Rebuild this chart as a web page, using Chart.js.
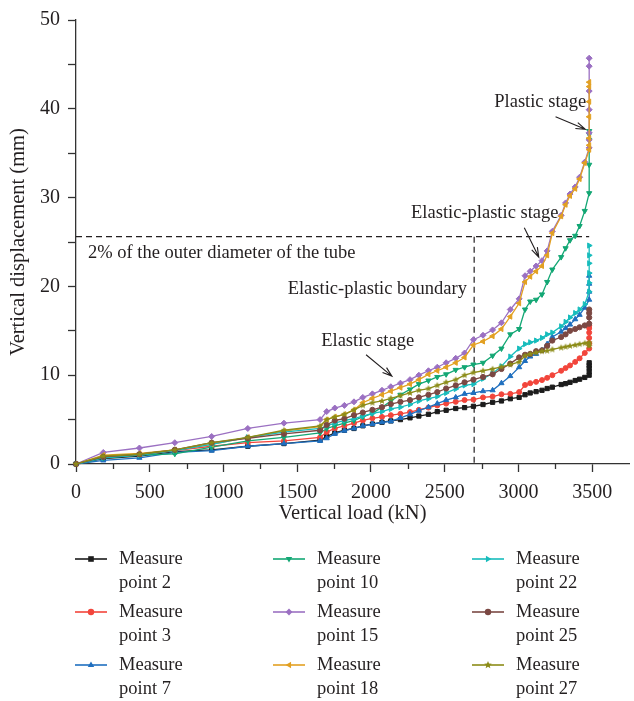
<!DOCTYPE html>
<html>
<head>
<meta charset="utf-8">
<script src="https://cdn.jsdelivr.net/npm/chart.js@4.4.0/dist/chart.umd.min.js"></script>
<style>
  html, body { margin: 0; padding: 0; background: #fff; }
  #wrap { width: 634px; height: 701px; }
</style>
</head>
<body>
<div id="wrap"><canvas id="chart" width="634" height="701"></canvas></div>
<script>
/* Load–displacement curves of the measuring points */

const FONT = '"Liberation Serif", "Times New Roman", serif';
const INK = '#231f20';

// load steps (kN); the last step is held while the tube yields
const loadSteps = [0, 185, 430, 670, 920, 1165, 1410, 1655,
  1700, 1755, 1820, 1885, 1945, 2010, 2075, 2135, 2200, 2265,
  2325, 2390, 2450, 2510, 2575, 2635, 2695, 2760, 2825, 2885,
  2945, 3005, 3045, 3080, 3120, 3160, 3195, 3230, 3290, 3320,
  3350, 3385, 3415, 3450, 3480];
const peakLoad = 3480;

const pointNames = ['Measure point 2', 'Measure point 3', 'Measure point 7',
  'Measure point 10', 'Measure point 15', 'Measure point 18',
  'Measure point 22', 'Measure point 25', 'Measure point 27'];

// vertical displacement (mm) at each load step
const mp2 = [0, 0.6, 0.9, 1.4, 1.6, 2.0, 2.3, 2.7,
  3.1, 3.5, 3.8, 4.0, 4.3, 4.5, 4.7, 4.85, 5.0, 5.2,
  5.4, 5.6, 5.9, 6.05, 6.25, 6.35, 6.5, 6.7, 6.95, 7.1,
  7.35, 7.5, 7.8, 8.0, 8.15, 8.3, 8.5, 8.65, 8.95, 9.05,
  9.2, 9.4, 9.55, 9.75, 10.0];
const mp3 = [0, 0.8, 1.0, 1.5, 2.0, 2.4, 2.6, 3.0,
  3.6, 4.0, 4.3, 4.6, 4.9, 5.15, 5.3, 5.5, 5.65, 5.85,
  6.1, 6.35, 6.6, 6.8, 7.0, 7.2, 7.25, 7.5, 7.6, 7.85,
  7.9, 8.1, 8.9, 9.1, 9.25, 9.45, 9.7, 10.0, 10.5, 10.8,
  11.1, 11.5, 11.9, 12.5, 13.0];
const mp7 = [0, 0.4, 0.7, 1.3, 1.5, 2.0, 2.3, 2.6,
  2.9, 3.4, 3.75, 4.0, 4.3, 4.5, 4.7, 4.8, 5.2, 5.6,
  6.0, 6.4, 6.8, 7.2, 7.5, 7.9, 8.0, 8.2, 8.3, 9.1,
  9.9, 10.9, 11.6, 12.1, 12.4, 12.8, 13.5, 14.3, 14.9, 15.3,
  15.7, 16.3, 16.8, 17.6, 18.5];
const mp10 = [0, 0.7, 1.0, 1.15, 1.9, 2.6, 3.0, 3.5,
  4.0, 4.3, 4.6, 4.9, 5.3, 5.7, 6.4, 7.1, 7.8, 8.4,
  9.0, 9.4, 9.8, 10.1, 10.6, 10.9, 11.2, 11.4, 12.2, 13.0,
  14.6, 15.2, 17.4, 18.3, 18.5, 19.1, 20.5, 21.9, 23.3, 24.3,
  25.2, 25.7, 26.8, 28.5, 30.5];
const mp15 = [0, 1.3, 1.8, 2.4, 3.1, 4.0, 4.6, 5.0,
  5.9, 6.3, 6.6, 7.0, 7.5, 7.9, 8.3, 8.7, 9.1, 9.5,
  10.0, 10.5, 10.9, 11.4, 11.9, 12.5, 14.0, 14.5, 15.1, 15.9,
  17.4, 18.6, 21.2, 21.7, 22.3, 22.9, 24.0, 26.2, 28.0, 29.4,
  30.4, 31.2, 32.3, 34.0, 35.6];
const mp18 = [0, 1.0, 1.2, 1.6, 2.2, 3.0, 3.7, 4.2,
  5.0, 5.3, 5.6, 6.1, 6.9, 7.4, 7.8, 8.2, 8.6, 9.0,
  9.5, 10.1, 10.5, 10.9, 11.4, 12.0, 13.4, 13.8, 14.4, 15.2,
  16.6, 18.1, 20.5, 21.1, 21.7, 22.3, 23.5, 26.0, 27.9, 29.2,
  30.2, 31.0, 32.1, 33.9, 35.4];
const mp22 = [0, 0.7, 1.0, 1.5, 2.2, 3.0, 3.6, 4.0,
  4.3, 4.6, 4.9, 5.1, 5.4, 5.7, 5.9, 6.2, 6.4, 6.7,
  7.1, 7.35, 7.6, 8.0, 8.45, 8.85, 9.0, 9.6, 10.2, 11.0,
  12.1, 13.0, 13.5, 13.7, 13.9, 14.2, 14.6, 14.8, 15.5, 16.0,
  16.5, 17.0, 17.4, 18.0, 19.4];
const mp25 = [0, 0.8, 1.1, 1.6, 2.4, 2.9, 3.4, 3.8,
  4.4, 4.9, 5.1, 5.5, 5.8, 6.1, 6.4, 6.75, 7.0, 7.2,
  7.5, 7.8, 8.1, 8.5, 8.85, 9.2, 9.5, 9.8, 10.1, 10.7,
  11.3, 12.0, 12.3, 12.4, 12.7, 12.8, 13.3, 13.9, 14.3, 14.6,
  15.0, 15.2, 15.4, 15.6, 15.8];
const mp27 = [0, 0.9, 1.1, 1.6, 2.4, 3.0, 3.8, 4.3,
  5.0, 5.3, 5.6, 6.1, 6.6, 6.9, 7.1, 7.4, 7.7, 8.0,
  8.3, 8.5, 8.85, 9.2, 9.5, 10.0, 10.3, 10.5, 10.7, 10.95,
  11.2, 11.5, 12.2, 12.4, 12.55, 12.7, 12.75, 12.9, 13.1, 13.2,
  13.3, 13.4, 13.5, 13.6, 13.7];

// readings taken while the peak load is held
const mp2Peak = [10.4, 10.8, 11.1, 11.4];
const mp3Peak = [13.6, 14.2, 14.8, 15.3, 15.6];
const mp7Peak = [19.4, 20.3, 21.2];
const mp10Peak = [33.7, 36.5, 37.1, 37.5];
const mp15Peak = [36.5, 37.3, 39.9, 42.0, 44.8, 45.7];
const mp18Peak = [35.9, 36.7, 39.1, 40.8, 42.5, 43.0];
const mp22Peak = [20.4, 21.5, 22.6, 23.5, 24.6];
const mp25Peak = [16.5, 17.0, 17.4];
const mp27Peak = [13.3, 13.5];

const xTicks = [0, 500, 1000, 1500, 2000, 2500, 3000, 3500];
const xMinorTicks = [250, 750, 1250, 1750, 2250, 2750, 3250];
const yTicks = [0, 5, 10, 15, 20, 25, 30, 35, 40, 45, 50];

// 2% of the outer tube diameter, and the load at the elastic-plastic boundary
const limitDisp = 25.6;
const boundaryLoad = 2700;

// filled five-point star for measure point 27
function starImage(color, r) {
  const c = document.createElement('canvas');
  const s = Math.ceil(r * 2 + 2);
  c.width = s; c.height = s;
  const g = c.getContext('2d');
  g.fillStyle = color;
  g.beginPath();
  for (let i = 0; i < 10; i++) {
    const rad = i % 2 ? r * 0.45 : r;
    const a = -Math.PI / 2 + i * Math.PI / 5;
    g.lineTo(s / 2 + rad * Math.cos(a), s / 2 + rad * Math.sin(a));
  }
  g.closePath();
  g.fill();
  return c;
}

const series = [
  { ys: mp2,  peak: mp2Peak,  color: '#1c1c1c', style: 'rect',     rot: 0,   r: 3 },
  { ys: mp3,  peak: mp3Peak,  color: '#f2453b', style: 'circle',   rot: 0,   r: 2.5 },
  { ys: mp7,  peak: mp7Peak,  color: '#1f6fbf', style: 'triangle', rot: 0,   r: 3 },
  { ys: mp10, peak: mp10Peak, color: '#13a774', style: 'triangle', rot: 180, r: 3 },
  { ys: mp15, peak: mp15Peak, color: '#9b70c2', style: 'rectRot',  rot: 0,   r: 3 },
  { ys: mp18, peak: mp18Peak, color: '#e2a022', style: 'triangle', rot: 270, r: 3 },
  { ys: mp22, peak: mp22Peak, color: '#17bcbc', style: 'triangle', rot: 90,  r: 3 },
  { ys: mp25, peak: mp25Peak, color: '#7b4843', style: 'circle',   rot: 0,   r: 2.6 },
  { ys: mp27, peak: mp27Peak, color: '#8c8c18', style: 'star',     rot: 0,   r: 3.6 },
];

const datasets = series.map((s, i) => {
  const pts = loadSteps.map((x, k) => ({ x, y: s.ys[k] }))
    .concat(s.peak.map(y => ({ x: peakLoad, y })));
  const style = s.style === 'star' ? starImage(s.color, s.r) : s.style;
  return {
    label: pointNames[i],
    data: pts,
    borderColor: s.color,
    backgroundColor: s.color,
    borderWidth: 1.3,
    pointStyle: style,
    pointRotation: s.rot,
    pointRadius: s.r,
    pointBorderWidth: 1,
    pointBackgroundColor: s.color,
    pointBorderColor: s.color,
    tension: 0,
    clip: false,
    order: series.length - i,
  };
});

// legend marker drawn by hand so the legend can wrap into two lines
function legendMarker(ctx, s, x, y) {
  ctx.save();
  ctx.translate(x, y);
  ctx.rotate(s.rot * Math.PI / 180);
  ctx.fillStyle = s.color;
  ctx.beginPath();
  const r = 3.4;
  if (s.style === 'rect') {
    ctx.rect(-2.8, -2.8, 5.6, 5.6);
  } else if (s.style === 'circle') {
    ctx.arc(0, 0, 3.2, 0, Math.PI * 2);
  } else if (s.style === 'triangle') {
    ctx.moveTo(0, -r);
    ctx.lineTo(r * 0.95, r * 0.6);
    ctx.lineTo(-r * 0.95, r * 0.6);
    ctx.closePath();
  } else if (s.style === 'rectRot') {
    ctx.moveTo(0, -r); ctx.lineTo(r, 0); ctx.lineTo(0, r); ctx.lineTo(-r, 0);
    ctx.closePath();
  } else {
    for (let i = 0; i < 10; i++) {
      const rad = i % 2 ? 1.8 : 4;
      const a = -Math.PI / 2 + i * Math.PI / 5;
      ctx.lineTo(rad * Math.cos(a), rad * Math.sin(a));
    }
    ctx.closePath();
  }
  ctx.fill();
  ctx.restore();
}

function arrow(ctx, x1, y1, x2, y2) {
  const a = Math.atan2(y2 - y1, x2 - x1);
  const len = 10, spread = 0.32;
  ctx.beginPath();
  ctx.moveTo(x1, y1);
  ctx.lineTo(x2, y2);
  ctx.moveTo(x2 - len * Math.cos(a - spread), y2 - len * Math.sin(a - spread));
  ctx.lineTo(x2, y2);
  ctx.lineTo(x2 - len * Math.cos(a + spread), y2 - len * Math.sin(a + spread));
  ctx.stroke();
}

// stage labels: text anchor and arrow ends in data units
const stageNotes = [
  { text: 'Elastic stage', x: 1978, y: 13.8, align: 'center', from: [1967, 12.3], to: [2142, 9.9] },
  { text: 'Elastic-plastic stage', x: 2772, y: 28.2, align: 'center', from: [3040, 26.6], to: [3138, 23.3] },
  { text: 'Plastic stage', x: 3148, y: 40.7, align: 'center', from: [3252, 39.1], to: [3454, 37.7] },
  { text: 'Elastic-plastic boundary', x: 2651, y: 19.7, align: 'right' },
  { text: '2% of the outer diameter of the tube', x: 81, y: 23.7, align: 'left' },
];

const guidePlugin = {
  id: 'guides',
  beforeDatasetsDraw(chart) {
    const { ctx, scales: { x, y } } = chart;
    ctx.save();
    ctx.strokeStyle = INK;
    ctx.lineWidth = 1.2;
    ctx.setLineDash([6, 4]);
    const yl = y.getPixelForValue(limitDisp);
    ctx.beginPath();
    ctx.moveTo(x.getPixelForValue(0), yl);
    ctx.lineTo(x.getPixelForValue(peakLoad), yl);
    const xb = x.getPixelForValue(boundaryLoad);
    ctx.moveTo(xb, yl);
    ctx.lineTo(xb, y.getPixelForValue(0));
    ctx.stroke();
    ctx.restore();
  },
  afterDatasetsDraw(chart) {
    const { ctx, scales: { x, y } } = chart;
    ctx.save();
    ctx.fillStyle = INK;
    ctx.strokeStyle = INK;
    ctx.lineWidth = 1.1;
    ctx.font = '18.5px ' + FONT;
    ctx.textBaseline = 'middle';
    stageNotes.forEach(n => {
      ctx.textAlign = n.align;
      ctx.fillText(n.text, x.getPixelForValue(n.x), y.getPixelForValue(n.y));
      if (n.from) {
        arrow(ctx, x.getPixelForValue(n.from[0]), y.getPixelForValue(n.from[1]),
          x.getPixelForValue(n.to[0]), y.getPixelForValue(n.to[1]));
      }
    });
    ctx.restore();
  },
  afterDraw(chart) {
    const { ctx, scales: { x, y } } = chart;
    ctx.save();
    // minor ticks on the load axis
    ctx.strokeStyle = '#333';
    ctx.lineWidth = 1.3;
    const yb = y.getPixelForValue(0);
    ctx.beginPath();
    xMinorTicks.forEach(v => {
      const px = Math.round(x.getPixelForValue(v)) + 0.5;
      ctx.moveTo(px, yb);
      ctx.lineTo(px, yb + 5);
    });
    ctx.stroke();

    // legend: three columns, names broken over two lines
    ctx.font = '18.5px ' + FONT;
    ctx.textBaseline = 'middle';
    ctx.textAlign = 'left';
    const colX = [75, 273, 472];
    series.forEach((s, i) => {
      const col = Math.floor(i / 3), row = i % 3;
      const lx = colX[col], ly = 559 + row * 53;
      ctx.strokeStyle = s.color;
      ctx.globalAlpha = 0.8;
      ctx.lineWidth = 2;
      ctx.beginPath();
      ctx.moveTo(lx, ly);
      ctx.lineTo(lx + 32, ly);
      ctx.stroke();
      ctx.globalAlpha = 1;
      legendMarker(ctx, s, lx + 16, ly);
      const name = pointNames[i];
      const cut = name.indexOf(' ');
      ctx.fillStyle = INK;
      ctx.fillText(name.slice(0, cut), lx + 44, ly);
      ctx.fillText(name.slice(cut + 1), lx + 44, ly + 24);
    });
    ctx.restore();
  }
};

new Chart(document.getElementById('chart'), {
  type: 'line',
  data: { datasets },
  options: {
    responsive: false,
    animation: false,
    devicePixelRatio: 1,
    layout: { padding: { top: 16, right: 1, bottom: 167, left: 0 } },
    plugins: { legend: { display: false }, tooltip: { enabled: false } },
    scales: {
      x: {
        type: 'linear',
        min: 0,
        max: 3750,
        afterFit(scale) { scale.height = 70; },
        afterBuildTicks(scale) { scale.ticks = xTicks.map(v => ({ value: v })); },
        grid: { drawOnChartArea: false, tickLength: 8, tickColor: '#333', tickWidth: 1.3 },
        border: { color: '#333', width: 1.3 },
        ticks: {
          color: INK, font: { family: FONT, size: 20 }, padding: 9, maxRotation: 0,
          callback: v => String(v)
        },
        title: {
          display: true, text: 'Vertical load (kN)', color: INK,
          font: { family: FONT, size: 20.5 }, padding: { top: 0, bottom: 8 }
        }
      },
      y: {
        min: 0,
        max: 50,
        afterFit(scale) { scale.width = 76; },
        afterBuildTicks(scale) { scale.ticks = yTicks.map(v => ({ value: v })); },
        grid: { drawOnChartArea: false, tickLength: 8, tickColor: '#333', tickWidth: 1.3 },
        border: { color: '#333', width: 1.3 },
        ticks: {
          color: INK, font: { family: FONT, size: 20 }, padding: 8,
          callback: v => (v % 10 === 0 ? String(v) : '')
        },
        title: {
          display: true, text: 'Vertical displacement (mm)', color: INK,
          font: { family: FONT, size: 20.5 }, padding: { top: 6, bottom: 0 }
        }
      }
    }
  },
  plugins: [guidePlugin]
});
</script>
</body>
</html>
